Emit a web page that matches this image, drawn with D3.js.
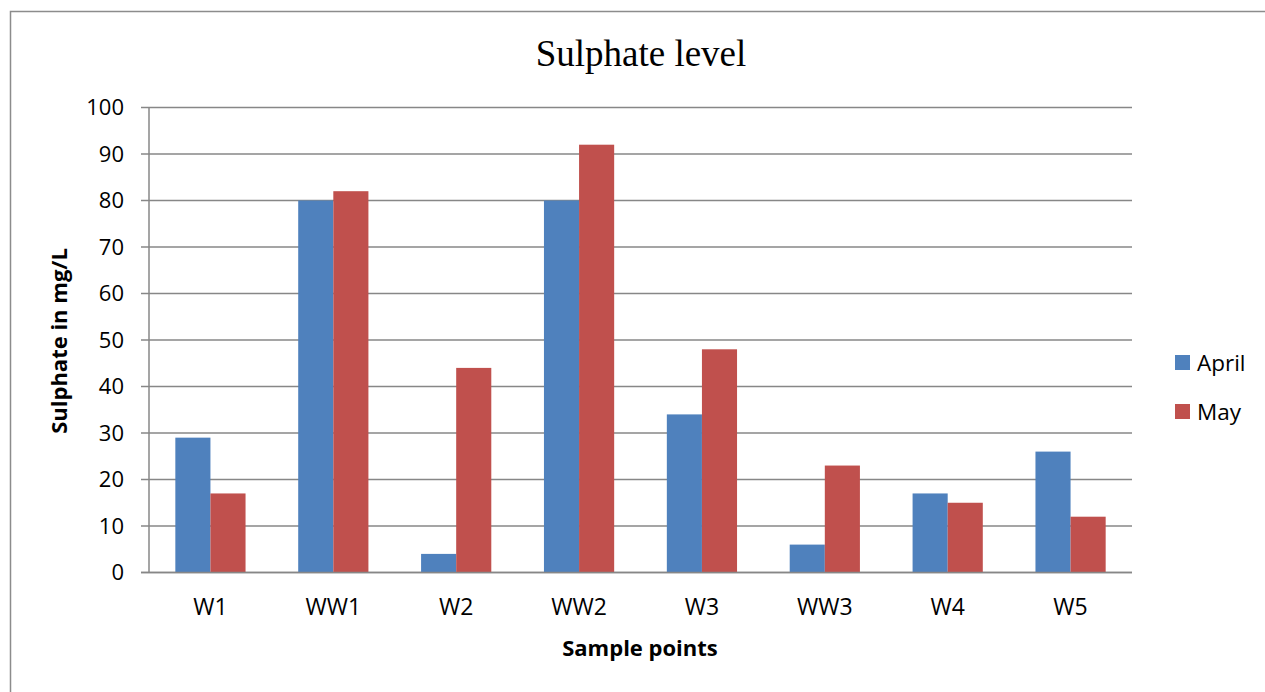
<!DOCTYPE html>
<html>
<head>
<meta charset="utf-8">
<script src="https://cdn.jsdelivr.net/npm/d3@7"></script>
<style>
  body { margin: 0; background: #fff; }
  svg { display: block; }
</style>
</head>
<body>
<div id="chart"></div>
<script>
var categories = ["W1", "WW1", "W2", "WW2", "W3", "WW3", "W4", "W5"];
var seriesNames = ["April", "May"];
var april = [29, 80, 4, 80, 34, 6, 17, 26];
var may = [17, 82, 44, 92, 48, 23, 15, 12];
var yTicks = [0, 10, 20, 30, 40, 50, 60, 70, 80, 90, 100];
var colors = ["#4F81BD", "#C0504D"];

var W = 1265, H = 692;
var m = {left: 149, right: 1132, top: 107.5, bottom: 572.5};
var sans = "'Open Sans', 'Noto Sans', sans-serif";

var svg = d3.select("#chart").append("svg")
  .attr("width", W).attr("height", H);

// outer frame (right and bottom sides fall outside the picture)
svg.append("rect")
  .attr("x", 10.5).attr("y", 11.5)
  .attr("width", W).attr("height", H)
  .attr("fill", "white")
  .attr("stroke", "#8c8c8c").attr("stroke-width", 1.5);

var x = d3.scaleBand().domain(categories).range([m.left, m.right]);
var y = d3.scaleLinear().domain([0, 100]).range([m.bottom, m.top]);
// gap width 150% -> each bar = step / 3.5
var barW = x.step() / 3.5;

// gridlines
svg.append("g").selectAll("line")
  .data(yTicks)
  .enter().append("line")
  .attr("x1", m.left - 8).attr("x2", m.right)
  .attr("y1", function(d){ return y(d); })
  .attr("y2", function(d){ return y(d); })
  .style("stroke", "#878787").style("stroke-width", 1.5);

// y axis line
svg.append("line")
  .attr("x1", m.left).attr("x2", m.left)
  .attr("y1", m.top).attr("y2", m.bottom)
  .style("stroke", "#878787").style("stroke-width", 1.5);

// tick labels
svg.append("g").selectAll("text")
  .data(yTicks)
  .enter().append("text")
  .attr("x", m.left - 25)
  .attr("y", function(d){ return y(d); })
  .attr("dy", "0.36em")
  .attr("text-anchor", "end")
  .style("font-family", sans).style("font-size", "22px").style("fill", "#000")
  .text(function(d){ return d; });

// bars
var series = [april, may];
series.forEach(function(vals, s){
  svg.append("g").selectAll("rect")
    .data(vals)
    .enter().append("rect")
    .attr("x", function(d, i){ return x(categories[i]) + x.step() / 2 - barW + s * barW; })
    .attr("y", function(d){ return y(d); })
    .attr("width", barW)
    .attr("height", function(d){ return y(0) - y(d); })
    .style("fill", colors[s]);
});

// redraw baseline over bars
svg.append("line")
  .attr("x1", m.left - 8).attr("x2", m.right)
  .attr("y1", y(0)).attr("y2", y(0))
  .style("stroke", "#878787").style("stroke-width", 1.5);

// category labels
svg.append("g").selectAll("text")
  .data(categories)
  .enter().append("text")
  .attr("x", function(d){ return x(d) + x.step() / 2; })
  .attr("y", 615)
  .attr("text-anchor", "middle")
  .style("font-family", sans).style("font-size", "23px").style("fill", "#000")
  .text(function(d){ return d; });

// title
svg.append("text")
  .attr("x", 641).attr("y", 66)
  .attr("text-anchor", "middle")
  .style("font-family", "'Liberation Serif', 'Times New Roman', serif")
  .style("font-size", "37px").style("fill", "#000")
  .text("Sulphate level");

// axis titles
svg.append("text")
  .attr("x", 640).attr("y", 656)
  .attr("text-anchor", "middle")
  .style("font-family", sans).style("font-size", "22px").style("font-weight", "bold")
  .text("Sample points");

svg.append("text")
  .attr("transform", "translate(67, 341) rotate(-90)")
  .attr("text-anchor", "middle")
  .style("font-family", sans).style("font-size", "22px").style("font-weight", "bold")
  .text("Sulphate in mg/L");

// legend
var legend = svg.append("g").selectAll("g")
  .data(seriesNames)
  .enter().append("g")
  .attr("transform", function(d, i){ return "translate(1175," + (355 + i * 49) + ")"; });
legend.append("rect")
  .attr("width", 15).attr("height", 15)
  .style("fill", function(d, i){ return colors[i]; });
legend.append("text")
  .attr("x", 22).attr("y", 16)
  .style("font-family", sans).style("font-size", "22.5px")
  .text(function(d){ return d; });
</script>
</body>
</html>
